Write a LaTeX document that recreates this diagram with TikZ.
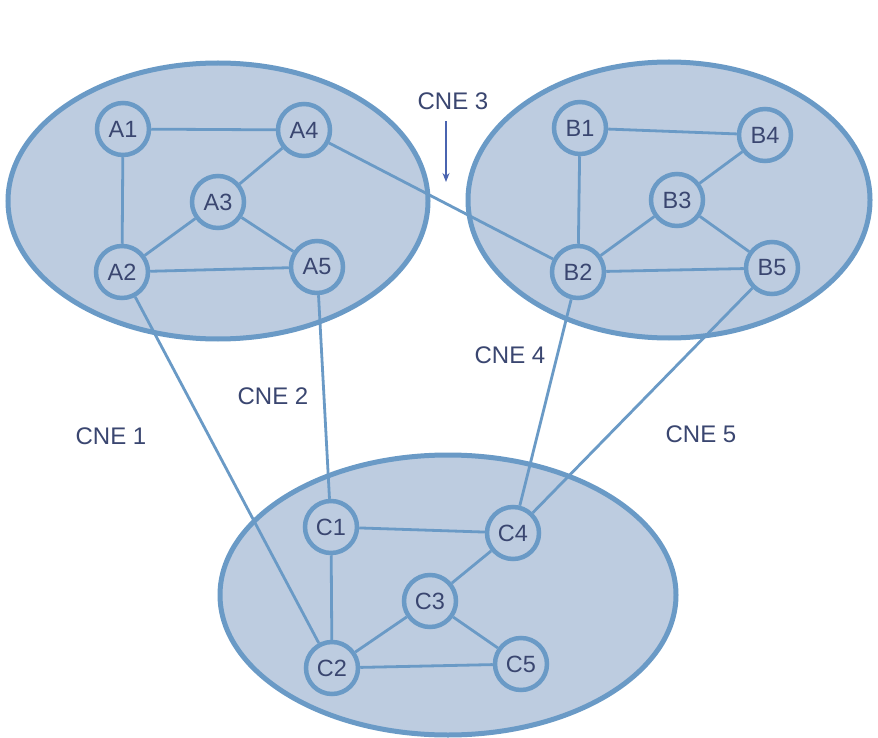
\documentclass[tikz,border=0pt]{standalone}
\usepackage{fontspec}
\setmainfont{Liberation Sans}
\usetikzlibrary{arrows.meta}
\definecolor{fillc}{HTML}{BDCCE0}
\definecolor{linec}{HTML}{6A9AC6}
\definecolor{txtc}{HTML}{3A4670}
\definecolor{arrc}{HTML}{4A64B0}
\begin{document}
\begin{tikzpicture}[x=1pt,y=-1pt,
  cluster/.style={draw=linec,fill=fillc,line width=5pt},
  vnode/.style={circle,draw=linec,fill=fillc,line width=4.5pt,minimum size=52pt,inner sep=0pt,text=txtc,font=\fontsize{23.5}{23.5}\selectfont},
  link/.style={draw=linec,line width=2.8pt},
  lbl/.style={text=txtc,font=\fontsize{24}{24}\selectfont}]
\useasboundingbox (0,0) rectangle (878,738);
\fill[white] (0,0) rectangle (878,738);
% clusters
\draw[cluster] (218,201) ellipse [x radius=210,y radius=138];
\draw[cluster] (669,200) ellipse [x radius=201,y radius=138];
\draw[cluster] (448,595) ellipse [x radius=228,y radius=140];
% nodes
\node[vnode] (A1) at (123,129) {A1};
\node[vnode] (A4) at (304,130) {A4};
\node[vnode] (A3) at (218,202) {A3};
\node[vnode] (A2) at (122,272) {A2};
\node[vnode] (A5) at (317,267) {A5};
\node[vnode] (B1) at (580,128) {B1};
\node[vnode] (B4) at (765,135) {B4};
\node[vnode] (B3) at (677,200) {B3};
\node[vnode] (B2) at (578,272) {B2};
\node[vnode] (B5) at (772,268) {B5};
\node[vnode] (C1) at (331,527) {C1};
\node[vnode] (C4) at (513,533) {C4};
\node[vnode] (C3) at (430,601) {C3};
\node[vnode] (C2) at (332,668) {C2};
\node[vnode] (C5) at (521,664) {C5};
% edges
\foreach \a/\b in {A1/A4,A1/A2,A4/A3,A3/A2,A3/A5,A2/A5,A4/B2,A2/C2,A5/C1,
  B1/B4,B1/B2,B4/B3,B3/B2,B3/B5,B2/B5,B2/C4,B5/C4,
  C1/C4,C1/C2,C4/C3,C3/C2,C3/C5,C2/C5}
  \draw[link] (\a) -- (\b);
% labels
\node[lbl] (cne3) at (453,101) {CNE 3};
\coordinate (arrEnd) at (446,182);
\draw[arrc,line width=1.2pt,-{Stealth[length=9pt,width=7pt]}] (cne3.south -| arrEnd) ++(0,8) -- (arrEnd);
\node[lbl] (cne4) at (510,355) {CNE 4};
\node[lbl] (cne2) at (273,396) {CNE 2};
\node[lbl] (cne1) at (111,436) {CNE 1};
\node[lbl] (cne5) at (701,434) {CNE 5};
\end{tikzpicture}
\end{document}
